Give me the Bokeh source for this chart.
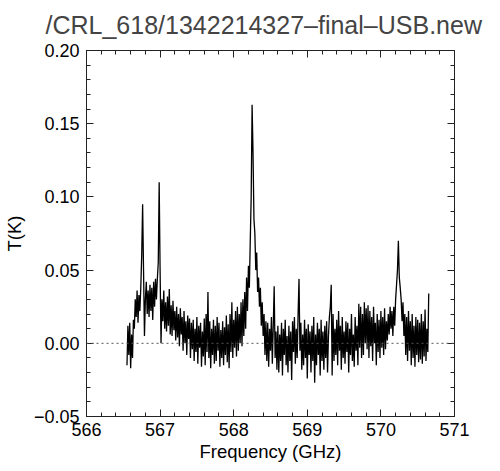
from bokeh.plotting import figure
from bokeh.models import FixedTicker, LinearAxis, Span, Range1d
from bokeh.embed import file_html
from bokeh.resources import INLINE

# ---- data ----
title_text = "/CRL_618/1342214327\u2013final\u2013USB.new"
freq_start_ghz = 566.55
freq_step_ghz = 0.0125
temp_mK = [
    -15, 12, -8, 14, -17, 6, -10, 16,
    10, 30, 18, 36, 14, 33, 22, 38,
    60, 95, 50, 5, 30, 42, 20, 36,
    18, 40, 22, 38, 16, 42, 25, 44,
    30, 44, 55, 110, 50, 0, 30, 15,
    36, 10, 28, 8, 32, 12, 37, 6,
    26, 5, 29, 9, 22, 2, 25, 4,
    20, -2, 24, 6, 18, -5, 22, 0,
    15, -8, 19, 3, 17, -10, 14, -4,
    16, -12, 10, -6, 18, -14, 12, -3,
    14, -16, 8, -9, 17, -15, 20, -6,
    35, -10, 15, -17, 10, -8, 16, -14,
    12, -12, 18, -5, 14, -16, 9, -10,
    15, -15, 11, -8, 19, -13, 13, -17,
    20, -6, 28, -10, 16, -3, 22, -9,
    25, -5, 20, 0, 28, -2, 30, 5,
    35, 10, 45, 22, 53, 38, 70, 100,
    163, 130, 85, 75, 50, 62, 35, 45,
    25, 38, 12, 28, 5, 20, -8, 15,
    -12, 14, -16, 10, -5, 18, -14, 12,
    39, -10, 8, -18, 12, -20, 6, -12,
    14, -22, 10, -8, 16, -15, 5, -20,
    12, -12, 8, -25, 15, -6, 18, -14,
    10, -10, 20, 44, -5, 14, -18, 6,
    -15, 16, -10, 10, -24, 13, -8, 8,
    -20, 12, -12, 18, -27, 6, -15, 14,
    -8, 10, -22, 16, -12, 8, -18, 12,
    -10, 15, -20, 5, 18, 25, 40, -22,
    20, -12, 10, -8, 16, -15, 22, -5,
    12, -18, 18, -10, 8, -14, 15, -6,
    14, -20, 10, -8, 20, -12, 6, -16,
    18, -5, 12, -15, 27, -3, 25, -10,
    20, -8, 28, 0, 24, -4, 26, -10,
    22, -2, 18, -12, 25, 0, 14, -15,
    20, -6, 16, -10, 22, -3, 18, -8,
    24, -4, 15, 2, 20, 6, 25, 10,
    22, 5, 25, 12, 30, 40, 50, 70,
    45, 38, 30, 15, 28, 5, 20, -8,
    18, -12, 22, -5, 15, -15, 20, -10,
    12, -16, 18, -8, 16, -13, 14, -11,
    20, -14, 15, -9, 23, -12, 10, -6,
    34,
]
x_ticks = [566, 567, 568, 569, 570, 571]
x_tick_labels = ["566", "567", "568", "569", "570", "571"]
y_ticks = [-0.05, 0.0, 0.05, 0.10, 0.15, 0.20]
y_tick_labels = ["\u22120.05", "0.00", "0.05", "0.10", "0.15", "0.20"]

freq = [round(freq_start_ghz + freq_step_ghz * i, 5) for i in range(len(temp_mK))]
temp_K = [v / 1000.0 for v in temp_mK]

FONT = "Liberation Sans"

p = figure(frame_width=368, frame_height=366, output_backend="svg", toolbar_location=None,
           x_range=Range1d(566, 571), y_range=Range1d(-0.05, 0.20),
           x_axis_location=None, y_axis_location=None)
p.min_border_left = 84
p.min_border_right = 32
p.min_border_top = 50
p.min_border_bottom = 50
p.background_fill_color = "white"
p.border_fill_color = "white"
p.outline_line_color = "#222222"
p.xgrid.visible = False
p.ygrid.visible = False

p.title.text = title_text
p.title.text_font = FONT
p.title.text_font_size = "25px"
p.title.text_font_style = "normal"
p.title.align = "left"
p.title.vertical_align = "top"
p.title.offset = -41
p.title.standoff = 20

x_minor = [round(566 + 0.2 * i, 3) for i in range(26)]
y_minor = [round(-0.05 + 0.01 * i, 3) for i in range(26)]
xt = FixedTicker(ticks=x_ticks, minor_ticks=x_minor)
yt = FixedTicker(ticks=y_ticks, minor_ticks=y_minor)

def style(ax, show_labels):
    ax.axis_line_color = "#222222"
    ax.major_tick_line_color = "#222222"
    ax.minor_tick_line_color = "#222222"
    ax.major_tick_in = 7
    ax.major_tick_out = 0
    ax.minor_tick_in = 4
    ax.minor_tick_out = 0
    ax.major_label_text_font = FONT
    ax.axis_label_text_font = FONT
    ax.axis_label_text_font_style = "normal"
    ax.axis_label_text_color = "black"
    if not show_labels:
        ax.major_label_text_color = None
        ax.major_label_standoff = 0
    else:
        ax.major_label_text_color = "black"
        ax.major_label_text_font_size = "18px"
        ax.axis_label_text_font_size = "18.5px"

xb = LinearAxis(ticker=xt, axis_label="Frequency (GHz)")
style(xb, True)
xb.major_label_overrides = dict(zip(x_ticks, x_tick_labels))
xb.major_label_standoff = 6
xb.axis_label_standoff = 2
p.add_layout(xb, "below")

yl = LinearAxis(ticker=yt, axis_label="T(K)")
style(yl, True)
yl.major_label_overrides = dict(zip(y_ticks, y_tick_labels))
yl.major_label_standoff = 7
yl.axis_label_standoff = 6
p.add_layout(yl, "left")

xa = LinearAxis(ticker=xt)
style(xa, False)
p.add_layout(xa, "above")

yr = LinearAxis(ticker=yt)
style(yr, False)
p.add_layout(yr, "right")

p.add_layout(Span(location=0, dimension="width", line_color="#555555",
                  line_dash="2 3", line_width=1))

p.line(freq, temp_K, line_color="black", line_width=1.3)

open("out.html", "w").write(file_html(p, INLINE))
